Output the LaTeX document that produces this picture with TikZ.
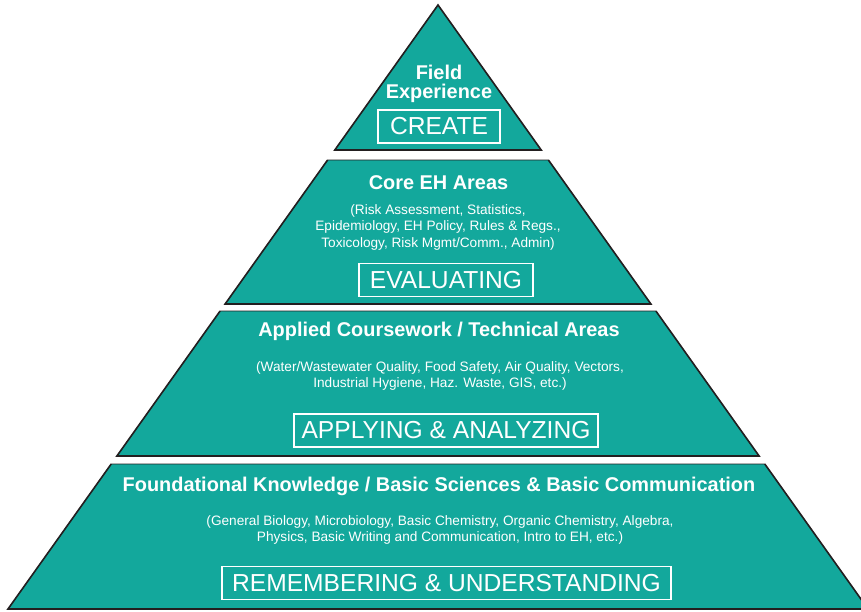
\documentclass[tikz,border=0pt]{standalone}
\usepackage{fontspec}
\setmainfont{Liberation Sans}
\definecolor{teal1}{HTML}{13A89C}
\definecolor{edge}{HTML}{231F20}
\begin{document}
\begin{tikzpicture}[x=1pt,y=-1pt,
  tier/.style={fill=teal1,draw=edge,line width=0.6pt,line join=miter},
  rim/.style={draw=edge,line width=1.6pt,line join=miter},
  head/.style={text=white,font=\bfseries\fontsize{19.9}{19.5}\selectfont,align=center,inner sep=0pt},
  sub/.style={text=white,font=\fontsize{13.65}{16.5}\selectfont,align=center,inner sep=0pt},
  lvl/.style={draw=white,line width=1.7pt,text=white,font=\fontsize{24.6}{24}\selectfont,inner sep=0pt,minimum height=33}]
\useasboundingbox (0,0) rectangle (861,611);
\clip (0,0) rectangle (861,611);
% tiers
\path[tier] (438,5) -- (541.2,150) -- (334.8,150) -- cycle;
\draw[rim] (438,5) -- (541.2,150) -- (334.8,150) -- cycle;
\path[tier] (327.6,160) -- (548.4,160) -- (650.9,304) -- (225.1,304) -- cycle;
\draw[rim] (548.4,160) -- (650.9,304) -- (225.1,304) -- (327.6,160);
\path[tier] (220.1,311) -- (655.9,311) -- (759.1,456) -- (116.9,456) -- cycle;
\draw[rim] (655.9,311) -- (759.1,456) -- (116.9,456) -- (220.1,311);
\path[tier] (111.2,464) -- (764.8,464) -- (868,609) -- (8,609) -- cycle;
\draw[rim] (764.8,464) -- (868,609) -- (8,609) -- (111.2,464);
% tier 1
\node[head] (h1) at (439,84) {Field\\Experience};
\node[lvl,minimum width=122] (b1) at (439,126.5) {CREATE};
% tier 2
\node[head] (h2) at (438.5,183) {Core EH Areas};
\node[sub] (s2) at (438,227) {(Risk Assessment, Statistics,\\Epidemiology, EH Policy, Rules \& Regs.,\\Toxicology, Risk Mgmt/Comm., Admin)};
\node[lvl,minimum width=174] (b2) at (446,280) {EVALUATING};
% tier 3
\node[head] (h3) at (439,331) {Applied Coursework / Technical Areas};
\node[sub] (s3) at (440,376) {(Water/Wastewater Quality, Food Safety, Air Quality, Vectors,\\Industrial Hygiene, Haz. Waste, GIS, etc.)};
\node[lvl,minimum width=304] (b3) at (446,430.5) {APPLYING \& ANALYZING};
% tier 4
\node[head] (h4) at (439,486) {Foundational Knowledge / Basic Sciences \& Basic Communication};
\node[sub] (s4) at (440,530) {(General Biology, Microbiology, Basic Chemistry, Organic Chemistry, Algebra,\\Physics, Basic Writing and Communication, Intro to EH, etc.)};
\node[lvl,minimum width=449] (b4) at (446.5,583) {REMEMBERING \& UNDERSTANDING};
\end{tikzpicture}
\end{document}
